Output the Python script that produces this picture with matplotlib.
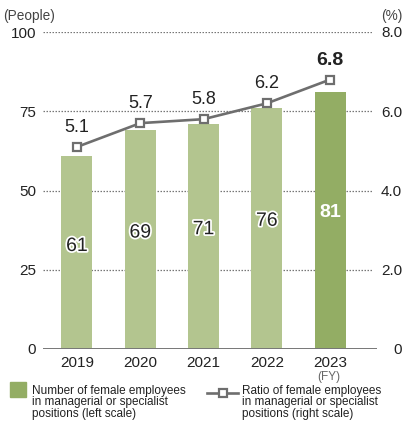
import matplotlib
matplotlib.use("Agg")
import matplotlib.pyplot as plt
import matplotlib.patheffects as pe

plt.rcParams['font.family'] = ['Liberation Sans', 'DejaVu Sans']

years = ["2019", "2020", "2021", "2022", "2023"]
female_managers = [61, 69, 71, 76, 81]
female_ratio = [5.1, 5.7, 5.8, 6.2, 6.8]
left_ticks = [0, 25, 50, 75, 100]
right_ticks = ["0", "2.0", "4.0", "6.0", "8.0"]

light_green = "#b3c58f"
dark_green = "#93ad64"
line_gray = "#6e6e6e"
text_col = "#222222"

W, H = 404, 421
fig = plt.figure(figsize=(W / 100, H / 100), dpi=100)
ax = fig.add_axes([43 / W, 1 - 349 / H, (377 - 43) / W, (349 - 32) / H])
ax2 = ax.twinx()

x = list(range(len(years)))
colors = [light_green] * (len(years) - 1) + [dark_green]
ax.bar(x, female_managers, width=0.49, color=colors, zorder=2)

ax.set_xlim(-0.537, 4.74)
ax.set_ylim(0, 100)
ax2.set_ylim(0, 8)

# dotted gridlines
for v in left_ticks[1:]:
    ax.plot([-0.537, 4.68], [v, v], ls=(0, (1.2, 1.2)), lw=0.9, color="#777777", zorder=1)
ax.axhline(0, color="#777777", lw=1.4, zorder=3)

for a in (ax, ax2):
    for s in a.spines.values():
        s.set_visible(False)

ax.set_yticks(left_ticks)
ax.set_yticklabels([str(v) for v in left_ticks])
ax.tick_params(axis="y", length=0, pad=5, labelsize=11, labelcolor=text_col)
ax.set_xticks(x)
ax.set_xticklabels(years)
ax.tick_params(axis="x", length=0, pad=5, labelsize=11, labelcolor=text_col)

ax2.set_yticks([0, 2, 4, 6, 8])
ax2.set_yticklabels(right_ticks)
ax2.tick_params(axis="y", length=0, pad=18, labelsize=11, labelcolor=text_col)
for lab in ax2.get_yticklabels():
    lab.set_horizontalalignment("right")

# value labels inside bars
for i, v in enumerate(female_managers):
    last = i == len(female_managers) - 1
    ax.text(i, v * 0.53, str(v), ha="center", va="center", fontsize=14,
            color="white" if last else text_col, fontweight="bold" if last else "normal",
            zorder=5,
            path_effects=[] if last else [pe.withStroke(linewidth=2.5, foreground="white")])

# ratio line
ax2.plot(x, female_ratio, color=line_gray, lw=1.9, marker="s", markersize=6,
         markerfacecolor="white", markeredgecolor=line_gray, markeredgewidth=1.6, zorder=4)
for i, v in enumerate(female_ratio):
    last = i == len(female_ratio) - 1
    ax2.annotate(f"{v:.1f}", (i, v), xytext=(0, 14), textcoords="offset points",
                 ha="center", va="center", fontsize=14 if last else 13,
                 fontweight="bold" if last else "normal", color=text_col)

# axis unit captions
fig.text(3 / W, 1 - 16 / H, "(People)", fontsize=9.8, color="#444444", va="center", ha="left")
fig.text(402 / W, 1 - 16 / H, "(%)", fontsize=9.8, color="#444444", va="center", ha="right")
fig.text(329 / W, 1 - 377 / H, "(FY)", fontsize=8.5, color="#666666", va="center", ha="center")

# legend
fig.patches.append(plt.Rectangle((10 / W, 1 - 397 / H), 16 / W, 15 / H,
                                 transform=fig.transFigure, color=dark_green))
fig.text(32 / W, 1 - 385 / H,
         "Number of female employees\nin managerial or specialist\npositions (left scale)",
         fontsize=8.5, color=text_col, va="top", ha="left", linespacing=0.92)
fig.add_artist(plt.Line2D([207 / W, 238 / W], [1 - 393 / H, 1 - 393 / H],
                          transform=fig.transFigure, color=line_gray, lw=1.9,
                          marker=None))
fig.add_artist(plt.Line2D([223 / W], [1 - 393 / H], transform=fig.transFigure,
                          marker="s", markersize=6, markerfacecolor="white",
                          markeredgecolor=line_gray, markeredgewidth=1.6, lw=0))
fig.text(242 / W, 1 - 385 / H,
         "Ratio of female employees\nin managerial or specialist\npositions (right scale)",
         fontsize=8.5, color=text_col, va="top", ha="left", linespacing=0.92)

fig.savefig("out.png", dpi=100)
